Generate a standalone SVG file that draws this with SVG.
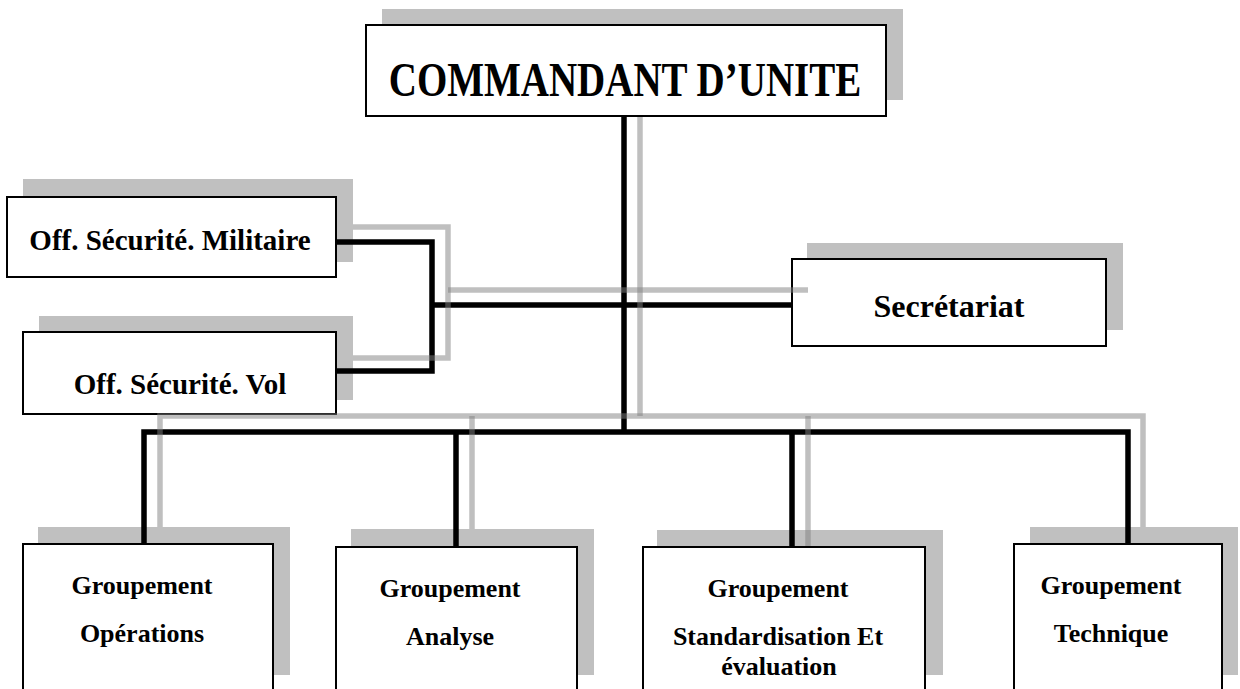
<svg xmlns="http://www.w3.org/2000/svg" width="1240" height="689" viewBox="0 0 1240 689">
<style>
.shadow{fill:#c0c0c0}
.box{fill:#fff;stroke:#000;stroke-width:2}
.t{font-family:"Liberation Serif","Times New Roman",serif;font-weight:bold;text-anchor:middle;fill:#000}
.lb{fill:none;stroke:#000;stroke-width:5.5;stroke-linejoin:miter}
.lg{fill:none;stroke:#808080;stroke-opacity:0.5;stroke-width:5.5;stroke-linejoin:miter}
</style>
<rect width="1240" height="689" fill="#fff"/>
<g id="commandant">
<rect class="shadow" x="382" y="9" width="521" height="91"/>
<rect class="box" x="366" y="25" width="520" height="91"/>
<text class="t" transform="translate(625,96) scale(1,1.25)" x="0" y="0" font-size="39">COMMANDANT D’UNITE</text>
</g>
<g id="off-securite-militaire">
<rect class="shadow" x="23" y="179" width="330" height="83"/>
<rect class="box" x="7" y="197" width="329" height="80"/>
<text class="t" x="170" y="250" font-size="29">Off. Sécurité. Militaire</text>
</g>
<g id="off-securite-vol">
<rect class="shadow" x="39" y="316" width="314" height="84"/>
<rect class="box" x="23" y="332" width="313" height="82"/>
<text class="t" x="180" y="394" font-size="29">Off. Sécurité. Vol</text>
</g>
<g id="secretariat">
<rect class="shadow" x="807" y="243" width="316" height="87"/>
<rect class="box" x="792" y="259" width="314" height="87"/>
<text class="t" x="949" y="317" font-size="32">Secrétariat</text>
</g>
<g id="groupement-operations">
<rect class="shadow" x="38" y="527" width="252" height="148"/>
<rect class="box" x="23" y="544" width="250" height="146"/>
<text class="t" x="142" y="594" font-size="26">Groupement</text>
<text class="t" x="142" y="642" font-size="26">Opérations</text>
</g>
<g id="groupement-analyse">
<rect class="shadow" x="351" y="529" width="243" height="146"/>
<rect class="box" x="336" y="547" width="241" height="143"/>
<text class="t" x="450" y="597" font-size="26">Groupement</text>
<text class="t" x="450" y="645" font-size="26">Analyse</text>
</g>
<g id="groupement-standardisation">
<rect class="shadow" x="657" y="530" width="286" height="145"/>
<rect class="box" x="643" y="547" width="282" height="143"/>
<text class="t" x="778" y="597" font-size="26">Groupement</text>
<text class="t" x="778" y="645" font-size="26">Standardisation Et</text>
<text class="t" x="779" y="675" font-size="26">évaluation</text>
</g>
<g id="groupement-technique">
<rect class="shadow" x="1030" y="527" width="208" height="148"/>
<rect class="box" x="1014" y="544" width="208" height="146"/>
<text class="t" x="1111" y="594" font-size="26">Groupement</text>
<text class="t" x="1111" y="642" font-size="26">Technique</text>
</g>
<g id="connectors">
<path class="lb" d="M624,117 V432"/>
<path class="lb" d="M337,242 H432 V371 H337"/>
<path class="lb" d="M432,305 H791"/>
<path class="lb" d="M144,543 V432 H1128 V543"/>
<path class="lb" d="M456,432 V546"/>
<path class="lb" d="M792,432 V546"/>
<path class="lg" d="M640,117 V416"/>
<path class="lg" d="M353,227 H448 V358 H353"/>
<path class="lg" d="M448,290 H808"/>
<path class="lg" d="M160,527 V416 H1143 V527"/>
<path class="lg" d="M472,416 V529"/>
<path class="lg" d="M808,416 V546"/>
</g>
</svg>
